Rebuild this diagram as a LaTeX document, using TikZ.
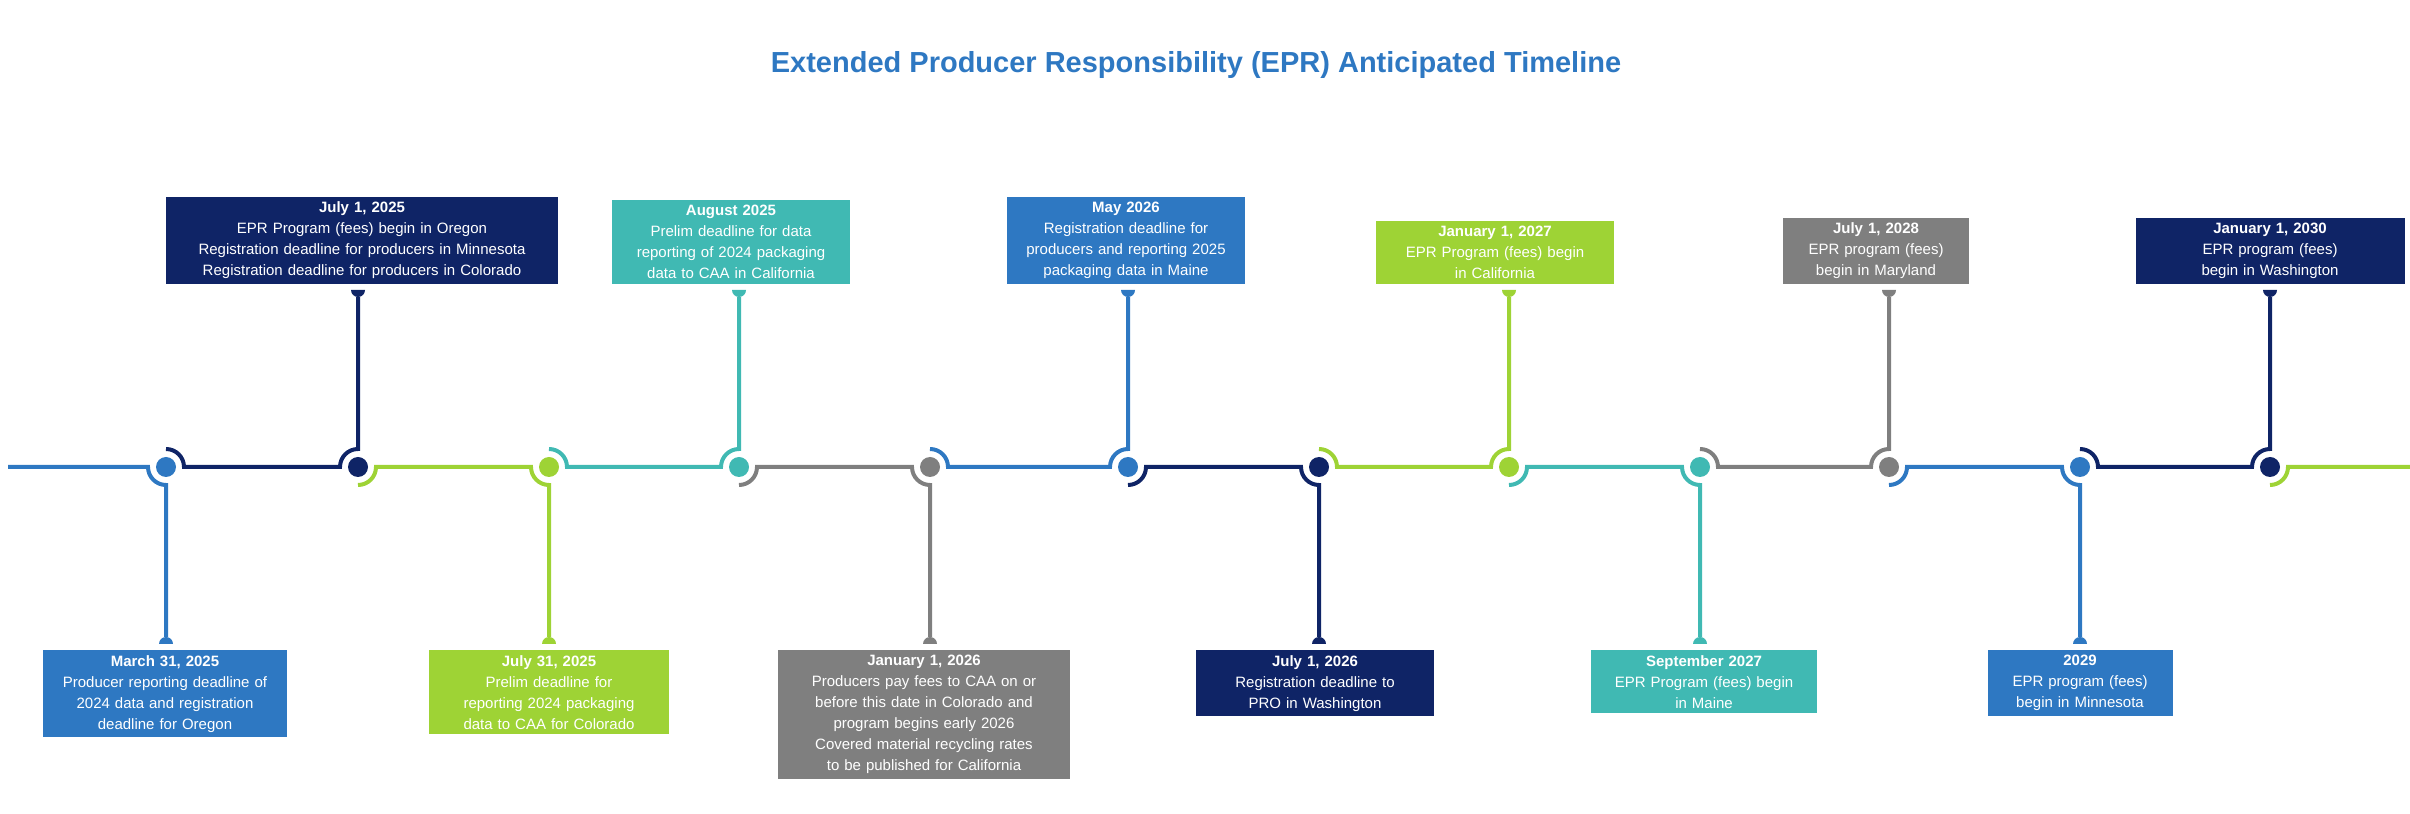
\documentclass[tikz,border=0pt]{standalone}
\usepackage{fontspec}
\setmainfont{Liberation Sans}
\usepackage{tikz}

\definecolor{cblue}{HTML}{2E78C2}
\definecolor{cnavy}{HTML}{0F2466}
\definecolor{cgreen}{HTML}{9ED335}
\definecolor{cteal}{HTML}{40B9B3}
\definecolor{cgray}{HTML}{7F7F7F}

\tikzset{
  dot/.style={circle, inner sep=0pt, minimum size=20pt},
  box/.style={inner sep=5pt, text=white, align=center, font=\fontsize{15}{21}\selectfont},
  upbox/.style={box, anchor=south},
  downbox/.style={box, anchor=north},
  track/.style={line width=4pt}
}

\begin{document}
\begin{tikzpicture}[x=1pt,y=1pt]
\useasboundingbox (0,0) rectangle (2410,814);
\node[font=\fontsize{29}{34}\selectfont\bfseries, text=cblue] (title) at (1196,749) {Extended Producer Responsibility (EPR) Anticipated Timeline};

% milestones on the line
\foreach \i/\x/\c in {1/166/cblue, 2/358/cnavy, 3/549/cgreen, 4/739/cteal, 5/930/cgray, 6/1128/cblue,
  7/1319/cnavy, 8/1509/cgreen, 9/1700/cteal, 10/1889/cgray, 11/2080/cblue, 12/2270/cnavy}
  \node[dot] (d\i) at (\x,347) {};
\coordinate (start) at (8,347);
\coordinate (finish) at (2410,347);

% first and last piece
\draw[track, cblue] (start) -- ([xshift=-18pt]d1.center) arc[start angle=180, end angle=270, radius=18] -- ++(0,-152);
\draw[track, cgreen] ([yshift=-18pt]d12.center) arc[start angle=-90, end angle=0, radius=18] -- (finish);
\fill[cblue] ([shift={(-7,-177)}]d1.center) arc[start angle=180, end angle=0, radius=7] -- cycle;

% pieces between milestones
\foreach \p/\i/\c/\d in {1/2/cnavy/1, 2/3/cgreen/-1, 3/4/cteal/1, 4/5/cgray/-1, 5/6/cblue/1,
  6/7/cnavy/-1, 7/8/cgreen/1, 8/9/cteal/-1, 9/10/cgray/1, 10/11/cblue/-1, 11/12/cnavy/1} {
  \draw[track, \c] ([yshift=\d*18]d\p.center) arc[start angle=\d*90, end angle=0, radius=18]
    -- ([xshift=-18pt]d\i.center) arc[start angle=180, end angle=180-\d*90, radius=18] -- ++(0,\d*152);
  \fill[\c] ([shift={(-7,\d*177)}]d\i.center) arc[start angle=180, end angle=180+180*\d, radius=7] -- cycle;
}

\foreach \i/\c in {1/cblue, 2/cnavy, 3/cgreen, 4/cteal, 5/cgray, 6/cblue, 7/cnavy, 8/cgreen, 9/cteal, 10/cgray, 11/cblue, 12/cnavy}
  \fill[\c] (d\i) circle[radius=10];

% labels
\node[downbox, fill=cblue, text width=234] (b1) at (165,164) {\textbf{March 31, 2025}\\Producer reporting deadline of\\2024 data and registration\\deadline for Oregon};
\node[upbox, fill=cnavy, text width=382] (b2) at (362,530) {\textbf{July 1, 2025}\\EPR Program (fees) begin in Oregon\\Registration deadline for producers in Minnesota\\Registration deadline for producers in Colorado};
\node[downbox, fill=cgreen, text width=230] (b3) at (549,164) {\textbf{July 31, 2025}\\Prelim deadline for\\reporting 2024 packaging\\data to CAA for Colorado};
\node[upbox, fill=cteal, text width=228] (b4) at (731,530) {\textbf{August 2025}\\Prelim deadline for data\\reporting of 2024 packaging\\data to CAA in California};
\node[downbox, fill=cgray, text width=282] (b5) at (924,164) {\textbf{January 1, 2026}\\Producers pay fees to CAA on or\\before this date in Colorado and\\program begins early 2026\\Covered material recycling rates\\to be published for California};
\node[upbox, fill=cblue, text width=228] (b6) at (1126,530) {\textbf{May 2026}\\Registration deadline for\\producers and reporting 2025\\packaging data in Maine};
\node[downbox, fill=cnavy, text width=228] (b7) at (1315,164) {\textbf{July 1, 2026}\\Registration deadline to\\PRO in Washington};
\node[upbox, fill=cgreen, text width=228] (b8) at (1495,530) {\textbf{January 1, 2027}\\EPR Program (fees) begin\\in California};
\node[downbox, fill=cteal, text width=216] (b9) at (1704,164) {\textbf{September 2027}\\EPR Program (fees) begin\\in Maine};
\node[upbox, fill=cgray, text width=176] (b10) at (1876,530) {\textbf{July 1, 2028}\\EPR program (fees)\\begin in Maryland};
\node[downbox, fill=cblue, text width=175] (b11) at (2080,164) {\textbf{2029}\\EPR program (fees)\\begin in Minnesota};
\node[upbox, fill=cnavy, text width=259] (b12) at (2270,530) {\textbf{January 1, 2030}\\EPR program (fees)\\begin in Washington};
\end{tikzpicture}
\end{document}
